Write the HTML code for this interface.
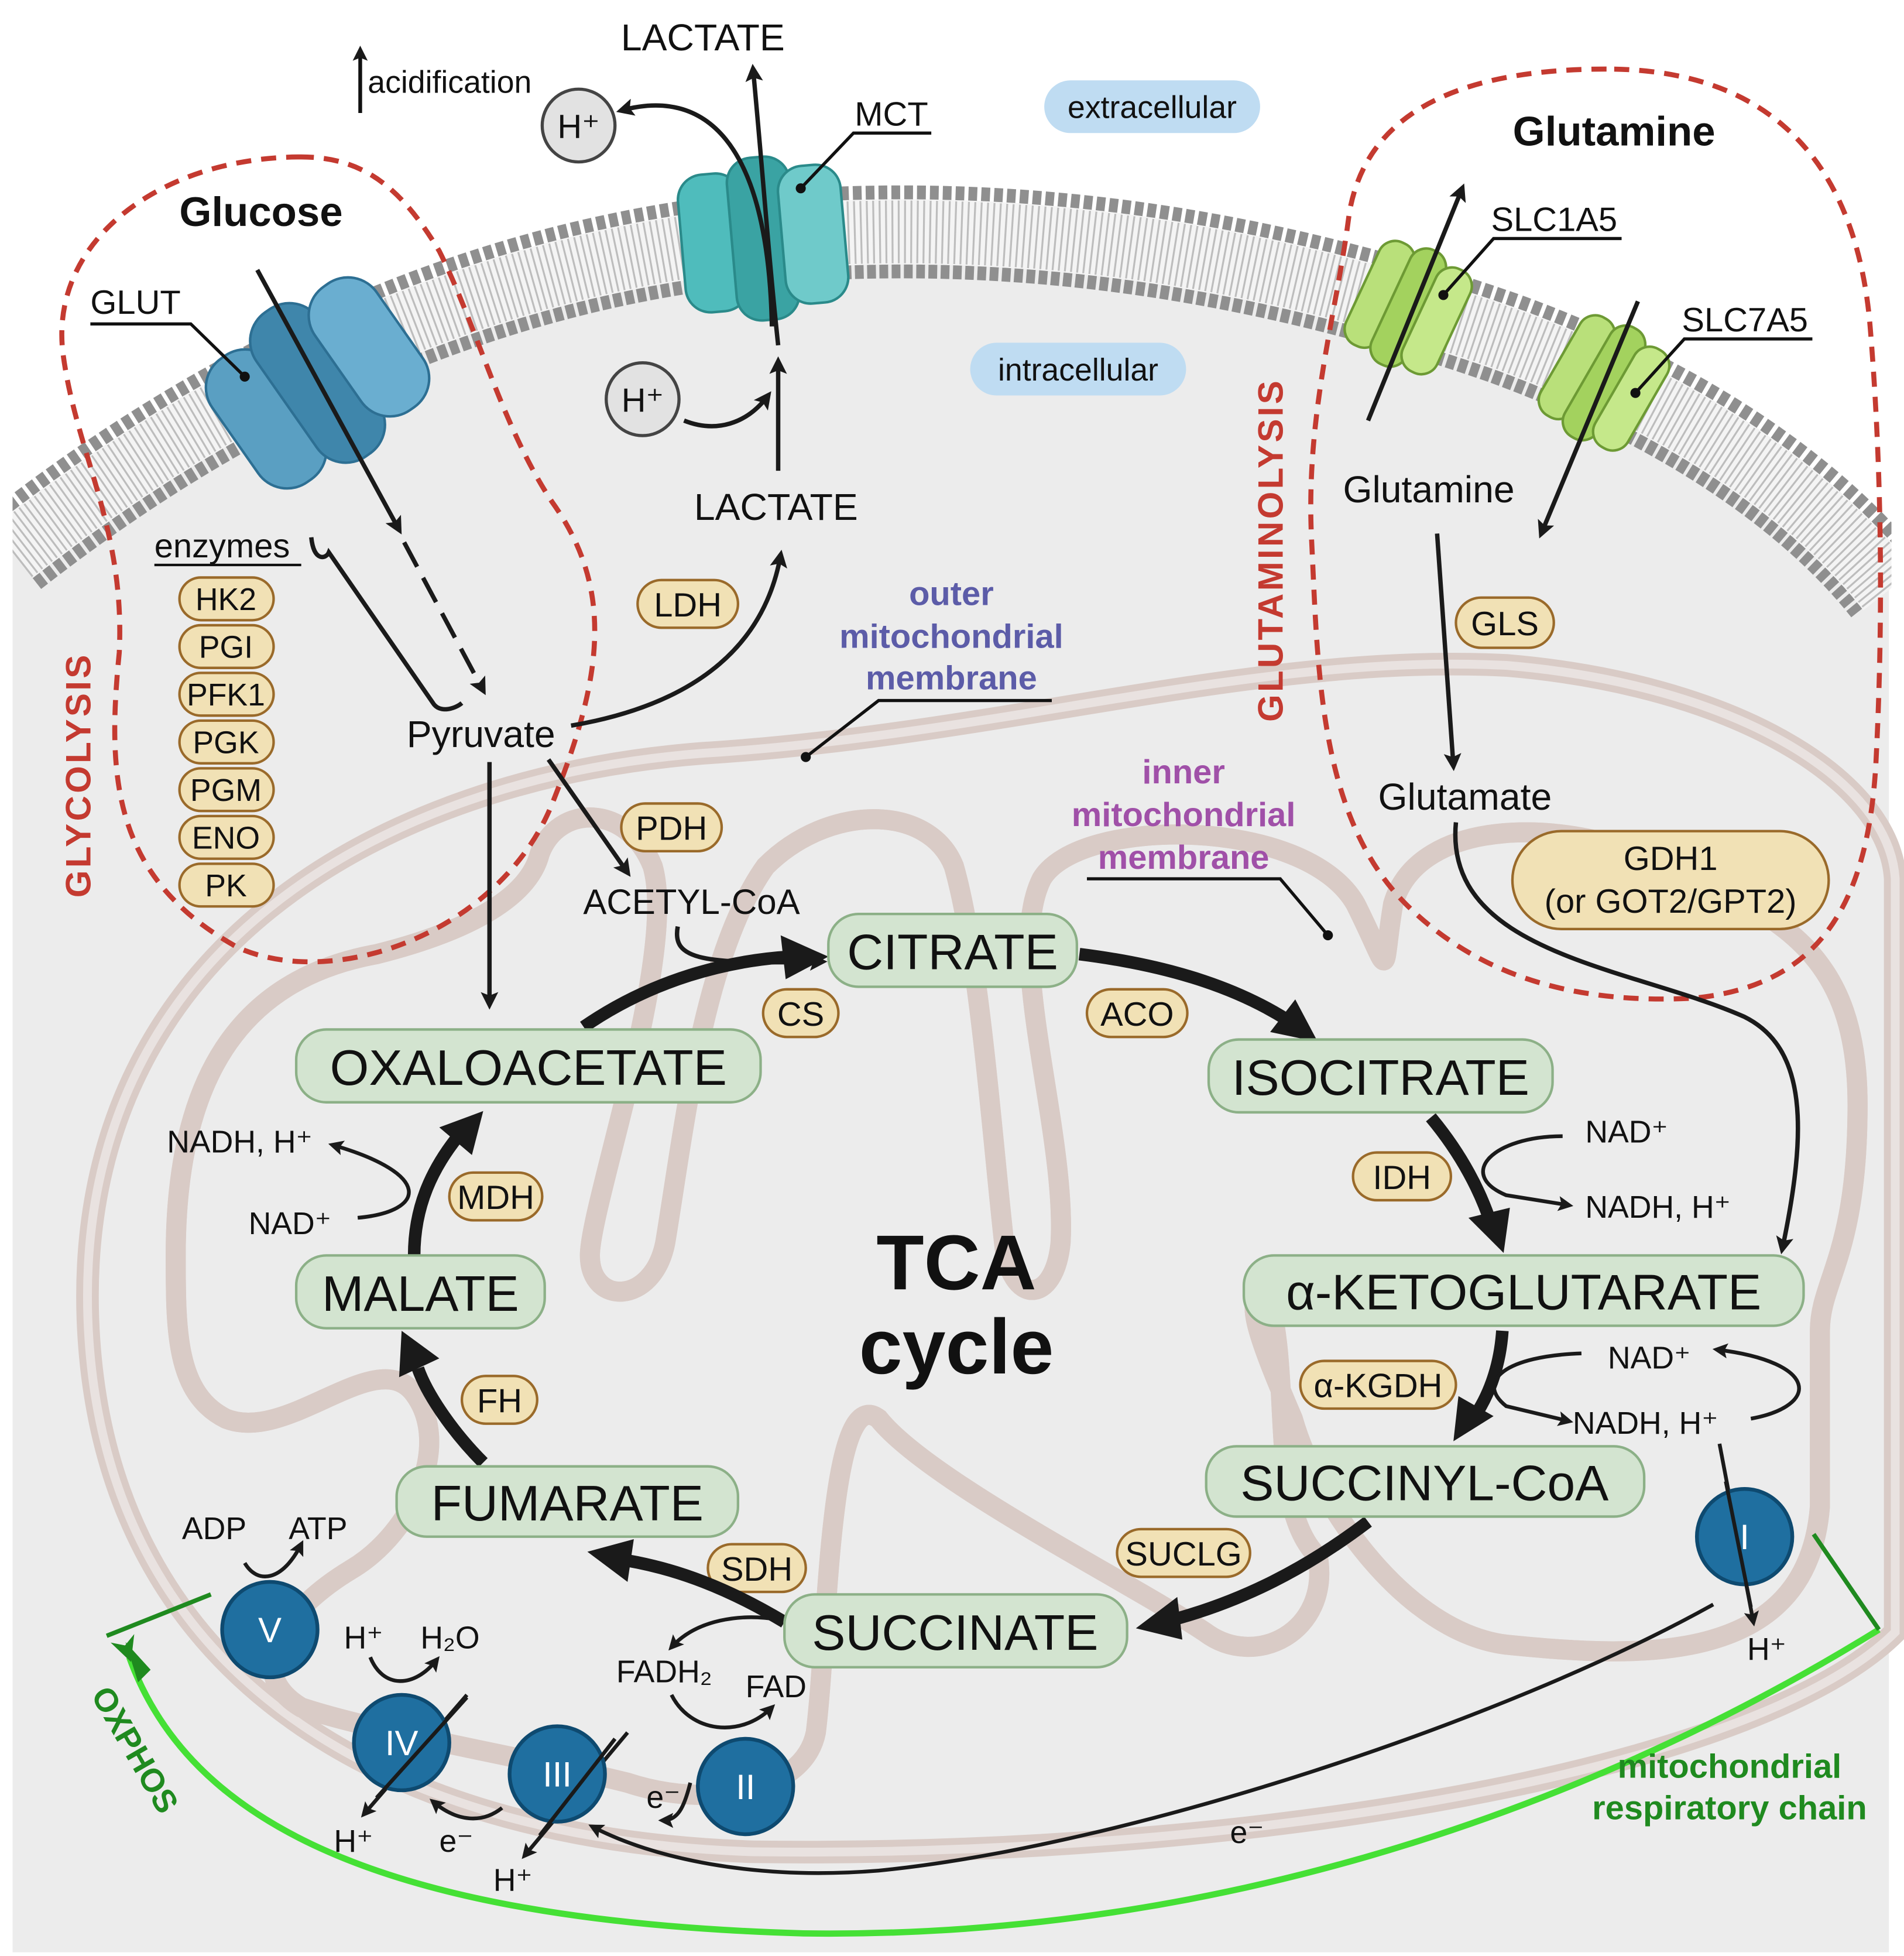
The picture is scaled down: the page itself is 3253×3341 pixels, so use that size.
<!DOCTYPE html>
<html><head><meta charset="utf-8">
<style>
html,body{margin:0;padding:0;background:#fff;}
svg{display:block;}
text{font-family:"Liberation Sans",Arial,sans-serif;fill:#111;}
.m{font-size:40px;text-anchor:middle;}
.e{font-size:25px;text-anchor:middle;}
.t{font-size:27px;}
.s{font-size:25px;}
</style></head><body>
<svg width="3253" height="3341" viewBox="0 0 1517 1558" preserveAspectRatio="none" xmlns="http://www.w3.org/2000/svg">
<defs>
<marker id="a" viewBox="0 0 10 10" refX="8" refY="5" markerWidth="6" markerHeight="6" orient="auto-start-reverse"><path d="M0,0 L10,5 L0,10 L3,5 Z" fill="#1a1a1a"/></marker>
<marker id="b" viewBox="0 0 10 10" refX="7" refY="5" markerWidth="4" markerHeight="4" orient="auto"><path d="M0,0 L10,5 L0,10 L2,5 Z" fill="#1a1a1a"/></marker>
<marker id="g" viewBox="0 0 10 10" refX="8" refY="5" markerWidth="4" markerHeight="4" orient="auto"><path d="M0,0 L10,5 L0,10 L3,5 Z" fill="#1f8a1f"/></marker>
</defs>
<rect width="1517" height="1558" fill="#fff"/>
<!-- cell interior -->
<path d="M10,440 C150,330 350,215 600,190 C800,172 1000,200 1200,270 C1350,325 1450,400 1505,470 L1505,1555 L10,1555 Z" fill="#ececec"/>
<!-- membrane -->
<path d="M10,440 C150,330 350,215 600,190 C800,172 1000,200 1200,270 C1350,325 1450,400 1505,470" fill="none" stroke="#8f8f8f" stroke-width="74" stroke-dasharray="7 3"/>
<path d="M10,440 C150,330 350,215 600,190 C800,172 1000,200 1200,270 C1350,325 1450,400 1505,470" fill="none" stroke="#f4f4f4" stroke-width="52"/>
<path d="M10,440 C150,330 350,215 600,190 C800,172 1000,200 1200,270 C1350,325 1450,400 1505,470" fill="none" stroke="#bdbdbd" stroke-width="50" stroke-dasharray="1.5 3.5"/>
<rect x="0" y="0" width="10" height="1558" fill="#fff"/>
<rect x="1507" y="0" width="10" height="1558" fill="#fff"/>

<!-- mitochondrion outer -->
<g fill="none">
<path d="M70,1050 C60,760 300,620 560,600 C800,585 1000,520 1200,530 C1380,545 1505,620 1510,700 L1510,1300 C1400,1410 1000,1480 600,1475 C300,1465 80,1330 70,1050 Z" stroke="#d9cbc6" stroke-width="18"/>
<path d="M70,1050 C60,760 300,620 560,600 C800,585 1000,520 1200,530 C1380,545 1505,620 1510,700 L1510,1300 C1400,1410 1000,1480 600,1475 C300,1465 80,1330 70,1050 Z" stroke="#e9e2e0" stroke-width="7"/>
<!-- inner membrane with cristae -->
<path id="im" d="M140,1000 C140,860 190,780 300,760 C360,745 420,720 430,680 C445,640 500,640 520,690 C540,760 470,960 470,1000 C470,1040 520,1040 530,990 C545,900 560,760 610,690 C660,640 740,640 760,690 C780,760 790,900 800,990 C805,1040 840,1040 845,990 C850,900 800,760 830,700 C860,650 1040,650 1080,720 C1110,780 1100,780 1110,720 C1130,650 1250,650 1330,690 C1420,730 1480,760 1480,880 C1480,1000 1450,1020 1450,1060 L1450,1200 C1440,1330 1300,1320 1200,1310 C1120,1300 1050,1200 1030,1130 C1000,1060 990,1030 1010,1030 C1030,1100 1010,1200 1050,1240 C1060,1300 1000,1330 960,1300 C900,1260 740,1180 700,1130 C660,1100 660,1300 650,1380 C640,1430 560,1440 500,1420 C420,1400 300,1380 240,1360 C190,1330 230,1280 280,1250 C330,1220 360,1150 330,1110 C300,1070 230,1150 180,1130 C140,1110 140,1060 140,1000 Z" stroke="#d9cbc6" stroke-width="16"/>
<use href="#im" stroke="#e9e2e0" stroke-width="5"/>
</g>

<!-- red dashed regions -->
<path d="M240,125 C130,125 40,190 50,280 C60,360 100,420 95,520 C85,620 90,700 190,755 C270,790 400,740 440,640 C480,540 490,470 440,400 C400,340 380,260 350,200 C320,150 290,125 240,125 Z" fill="none" stroke="#c43a30" stroke-width="4" stroke-dasharray="12 8"/>
<path d="M1280,55 C1180,55 1090,80 1075,170 C1065,250 1040,330 1045,430 C1050,530 1050,650 1120,720 C1180,780 1260,800 1350,795 C1450,785 1490,720 1495,600 C1500,500 1500,380 1490,260 C1480,140 1420,55 1280,55 Z" fill="none" stroke="#c43a30" stroke-width="4" stroke-dasharray="12 8"/>
<text transform="translate(72,715) rotate(-90)" font-size="28" font-weight="bold" style="fill:#c43a30" letter-spacing="2">GLYCOLYSIS</text>
<text transform="translate(1022,575) rotate(-90)" font-size="28" font-weight="bold" style="fill:#c43a30" letter-spacing="2">GLUTAMINOLYSIS</text>

<!-- pills extracellular/intracellular -->
<rect x="832" y="64" width="172" height="42" rx="21" fill="#bfdcf2"/>
<text x="918" y="94" class="e" style="font-size:25px">extracellular</text>
<rect x="773" y="273" width="172" height="42" rx="21" fill="#bfdcf2"/>
<text x="859" y="303" class="e">intracellular</text>

<!-- transporters -->
<g transform="translate(253,305) rotate(-35)">
<rect x="-80" y="-60" width="60" height="120" rx="28" fill="#5a9fc2" stroke="#2d6f93" stroke-width="2"/>
<rect x="-30" y="-70" width="60" height="140" rx="28" fill="#3f86ab" stroke="#2d6f93" stroke-width="2"/>
<rect x="20" y="-60" width="60" height="120" rx="28" fill="#6aaed0" stroke="#2d6f93" stroke-width="2"/>
</g>
<g transform="translate(608,190) rotate(-5)">
<rect x="-65" y="-55" width="50" height="110" rx="20" fill="#4fbcbc" stroke="#2a8a8a" stroke-width="2"/>
<rect x="-25" y="-65" width="50" height="130" rx="20" fill="#3aa3a3" stroke="#2a8a8a" stroke-width="2"/>
<rect x="15" y="-55" width="50" height="110" rx="20" fill="#6fcaca" stroke="#2a8a8a" stroke-width="2"/>
</g>
<g transform="translate(1122,245) rotate(25)">
<rect x="-40" y="-45" width="30" height="90" rx="14" fill="#b9e07a" stroke="#6d9a34" stroke-width="2"/>
<rect x="-15" y="-50" width="30" height="100" rx="14" fill="#a3d25e" stroke="#6d9a34" stroke-width="2"/>
<rect x="10" y="-45" width="30" height="90" rx="14" fill="#c5e88a" stroke="#6d9a34" stroke-width="2"/>
</g>
<g transform="translate(1278,305) rotate(30)">
<rect x="-40" y="-45" width="30" height="90" rx="14" fill="#b9e07a" stroke="#6d9a34" stroke-width="2"/>
<rect x="-15" y="-50" width="30" height="100" rx="14" fill="#a3d25e" stroke="#6d9a34" stroke-width="2"/>
<rect x="10" y="-45" width="30" height="90" rx="14" fill="#c5e88a" stroke="#6d9a34" stroke-width="2"/>
</g>

<!-- top labels -->
<text x="208" y="180" font-size="33" font-weight="bold" text-anchor="middle">Glucose</text>
<text x="1286" y="116" font-size="33" font-weight="bold" text-anchor="middle">Glutamine</text>
<text x="72" y="250" class="t">GLUT</text>
<path d="M72,258 H152 L195,300" fill="none" stroke="#111" stroke-width="2.5"/>
<circle cx="195" cy="300" r="4" fill="#111"/>
<text x="681" y="100" class="t">MCT</text>
<path d="M742,106 H680 L638,150" fill="none" stroke="#111" stroke-width="2.5"/>
<circle cx="638" cy="150" r="4" fill="#111"/>
<text x="1188" y="184" class="t">SLC1A5</text>
<path d="M1292,190 H1190 L1150,235" fill="none" stroke="#111" stroke-width="2.5"/>
<circle cx="1150" cy="235" r="4" fill="#111"/>
<text x="1340" y="264" class="t">SLC7A5</text>
<path d="M1444,270 H1342 L1303,313" fill="none" stroke="#111" stroke-width="2.5"/>
<circle cx="1303" cy="313" r="4" fill="#111"/>
<text x="560" y="40" class="t" text-anchor="middle" style="font-size:30px">LACTATE</text>
<text x="293" y="74" class="s">acidification</text>
<line x1="287" y1="90" x2="287" y2="40" stroke="#111" stroke-width="3" marker-end="url(#b)"/>

<!-- H+ circles -->
<circle cx="461" cy="100" r="29" fill="#e2e2e2" stroke="#444" stroke-width="2.5"/>
<text x="461" y="110" class="e" style="font-size:27px">H⁺</text>
<circle cx="512" cy="318" r="29" fill="#e2e2e2" stroke="#444" stroke-width="2.5"/>
<text x="512" y="328" class="e" style="font-size:27px">H⁺</text>

<!-- arrows upper -->
<g fill="none" stroke="#1a1a1a" stroke-width="3.5">
<line x1="205" y1="215" x2="318" y2="422" marker-end="url(#b)"/>
<line x1="322" y1="432" x2="385" y2="550" stroke-dasharray="22 10" marker-end="url(#b)"/>
<path d="M248,428 C250,448 260,445 262,440 L345,560 C350,568 362,565 368,560" />
<line x1="620" y1="375" x2="620" y2="288" marker-end="url(#b)"/>
<path d="M620,275 C612,200 608,140 600,55" marker-end="url(#b)"/>
<path d="M615,260 C612,110 560,70 495,88" marker-end="url(#b)"/>
<path d="M545,335 C570,345 595,338 612,315" marker-end="url(#b)"/>
<path d="M455,578 C560,560 610,510 622,442" marker-end="url(#b)"/>
<line x1="390" y1="607" x2="390" y2="800" marker-end="url(#b)"/>
<line x1="437" y1="605" x2="500" y2="695" marker-end="url(#b)"/>
<path d="M540,738 C535,765 560,768 655,766" marker-end="url(#b)"/>
<line x1="1090" y1="335" x2="1165" y2="150" marker-end="url(#b)"/>
<line x1="1305" y1="240" x2="1228" y2="425" marker-end="url(#b)"/>
<line x1="1145" y1="425" x2="1158" y2="610" marker-end="url(#b)"/>
<path d="M1160,655 C1150,760 1300,770 1390,810 C1440,835 1440,900 1420,995" marker-end="url(#b)"/>
</g>
<text x="123" y="444" class="t">enzymes</text>
<line x1="123" y1="450" x2="240" y2="450" stroke="#111" stroke-width="2"/>
<text x="324" y="595" class="t" style="font-size:30px">Pyruvate</text>
<text x="553" y="414" class="t" style="font-size:30px">LACTATE</text>
<text x="1070" y="400" class="t" style="font-size:30px">Glutamine</text>
<text x="1098" y="645" class="t" style="font-size:30px">Glutamate</text>
<text x="551" y="728" class="t" text-anchor="middle" style="font-size:28px">ACETYL-CoA</text>

<!-- mito labels -->
<text x="758" y="482" font-size="27" font-weight="bold" text-anchor="middle" style="fill:#5c5ca8">outer</text>
<text x="758" y="516" font-size="27" font-weight="bold" text-anchor="middle" style="fill:#5c5ca8">mitochondrial</text>
<text x="758" y="549" font-size="27" font-weight="bold" text-anchor="middle" style="fill:#5c5ca8">membrane</text>
<path d="M838,558 H700 L642,603" fill="none" stroke="#111" stroke-width="2.5"/>
<circle cx="642" cy="603" r="4" fill="#111"/>
<text x="943" y="624" font-size="27" font-weight="bold" text-anchor="middle" style="fill:#a050a8">inner</text>
<text x="943" y="658" font-size="27" font-weight="bold" text-anchor="middle" style="fill:#a050a8">mitochondrial</text>
<text x="943" y="692" font-size="27" font-weight="bold" text-anchor="middle" style="fill:#a050a8">membrane</text>
<path d="M866,700 H1020 L1058,745" fill="none" stroke="#111" stroke-width="2.5"/>
<circle cx="1058" cy="745" r="4" fill="#111"/>

<!-- enzyme pills -->
<g fill="#f1e1b5" stroke="#9a6a2a" stroke-width="2">
<rect x="143" y="460" width="75" height="34" rx="17"/>
<rect x="143" y="498" width="75" height="34" rx="17"/>
<rect x="143" y="536" width="75" height="34" rx="17"/>
<rect x="143" y="574" width="75" height="34" rx="17"/>
<rect x="143" y="612" width="75" height="34" rx="17"/>
<rect x="143" y="650" width="75" height="34" rx="17"/>
<rect x="143" y="688" width="75" height="34" rx="17"/>
<rect x="508" y="462" width="80" height="38" rx="19"/>
<rect x="495" y="640" width="80" height="38" rx="19"/>
<rect x="608" y="788" width="60" height="38" rx="19"/>
<rect x="866" y="788" width="80" height="38" rx="19"/>
<rect x="1078" y="918" width="78" height="38" rx="19"/>
<rect x="358" y="934" width="74" height="38" rx="19"/>
<rect x="368" y="1096" width="60" height="38" rx="19"/>
<rect x="1036" y="1084" width="124" height="38" rx="19"/>
<rect x="890" y="1218" width="106" height="38" rx="19"/>
<rect x="564" y="1230" width="78" height="38" rx="19"/>
<rect x="1160" y="476" width="78" height="40" rx="20"/>
<rect x="1205" y="662" width="252" height="78" rx="39"/>
</g>
<g class="e">
<text x="180" y="486" class="e">HK2</text>
<text x="180" y="524" class="e">PGI</text>
<text x="180" y="562" class="e">PFK1</text>
<text x="180" y="600" class="e">PGK</text>
<text x="180" y="638" class="e">PGM</text>
<text x="180" y="676" class="e">ENO</text>
<text x="180" y="714" class="e">PK</text>
<text x="548" y="491" class="e" style="font-size:27px">LDH</text>
<text x="535" y="669" class="e" style="font-size:27px">PDH</text>
<text x="638" y="817" class="e" style="font-size:27px">CS</text>
<text x="906" y="817" class="e" style="font-size:27px">ACO</text>
<text x="1117" y="947" class="e" style="font-size:27px">IDH</text>
<text x="395" y="963" class="e" style="font-size:27px">MDH</text>
<text x="398" y="1125" class="e" style="font-size:27px">FH</text>
<text x="1098" y="1113" class="e" style="font-size:27px">α-KGDH</text>
<text x="943" y="1247" class="e" style="font-size:27px">SUCLG</text>
<text x="603" y="1259" class="e" style="font-size:27px">SDH</text>
<text x="1199" y="506" class="e" style="font-size:27px">GLS</text>
<text x="1331" y="693" class="e" style="font-size:27px">GDH1</text>
<text x="1331" y="727" class="e" style="font-size:27px">(or GOT2/GPT2)</text>
</g>

<!-- TCA cycle arrows -->
<g fill="none" stroke="#1a1a1a" stroke-width="10">
<path d="M465,818 C520,780 580,765 630,762"/>
<path d="M860,760 C940,770 990,790 1025,812"/>
<path d="M1140,890 C1165,920 1180,950 1188,975"/>
<path d="M1197,1060 C1195,1090 1185,1115 1172,1132"/>
<path d="M1090,1212 C1040,1250 990,1275 935,1290"/>
<path d="M625,1292 C580,1265 540,1250 500,1243"/>
<path d="M385,1165 C360,1140 340,1110 333,1090"/>
<path d="M330,1000 C330,960 345,930 365,905"/>
</g>
<g fill="#1a1a1a">
<path d="M660,762 L622,745 L626,780 Z"/>
<path d="M1050,830 L1012,822 L1032,796 Z"/>
<path d="M1198,998 L1170,970 L1203,962 Z"/>
<path d="M1158,1148 L1162,1112 L1190,1128 Z"/>
<path d="M905,1297 L938,1272 L942,1306 Z"/>
<path d="M468,1236 L505,1226 L500,1260 Z"/>
<path d="M320,1060 L350,1082 L318,1097 Z"/>
<path d="M385,885 L376,920 L350,898 Z"/>
</g>

<!-- cycle nodes -->
<g fill="#d3e4d0" stroke="#8cb087" stroke-width="2">
<rect x="660" y="728" width="198" height="58" rx="24"/>
<rect x="236" y="820" width="370" height="58" rx="24"/>
<rect x="963" y="828" width="274" height="58" rx="24"/>
<rect x="991" y="1000" width="446" height="56" rx="24"/>
<rect x="961" y="1152" width="349" height="56" rx="24"/>
<rect x="625" y="1270" width="273" height="58" rx="24"/>
<rect x="316" y="1168" width="272" height="56" rx="24"/>
<rect x="236" y="1000" width="198" height="58" rx="24"/>
</g>
<text x="759" y="772" class="m">CITRATE</text>
<text x="421" y="864" class="m">OXALOACETATE</text>
<text x="1100" y="872" class="m">ISOCITRATE</text>
<text x="1214" y="1043" class="m">α-KETOGLUTARATE</text>
<text x="1135" y="1195" class="m">SUCCINYL-CoA</text>
<text x="761" y="1314" class="m">SUCCINATE</text>
<text x="452" y="1211" class="m">FUMARATE</text>
<text x="335" y="1044" class="m">MALATE</text>
<text x="762" y="1027" font-size="62" font-weight="bold" text-anchor="middle">TCA</text>
<text x="762" y="1094" font-size="62" font-weight="bold" text-anchor="middle">cycle</text>

<!-- cofactors -->
<g fill="none" stroke="#1a1a1a" stroke-width="3">
<path d="M285,970 C340,965 345,935 265,912" marker-end="url(#b)"/>
<path d="M1245,905 C1190,905 1160,935 1200,952 L1250,960" marker-end="url(#b)"/>
<path d="M1260,1078 C1200,1080 1175,1100 1200,1120 L1250,1132" marker-end="url(#b)"/>
<path d="M1395,1130 C1450,1120 1450,1085 1368,1075" marker-end="url(#b)"/>
<path d="M620,1290 C590,1285 555,1290 535,1312" marker-end="url(#b)"/>
<path d="M535,1350 C550,1380 590,1385 615,1360" marker-end="url(#b)"/>
<path d="M195,1245 C205,1262 225,1260 240,1230" marker-end="url(#b)"/>
<path d="M295,1320 C305,1345 330,1345 348,1322" marker-end="url(#b)"/>
<line x1="372" y1="1350" x2="290" y2="1445" marker-end="url(#b)"/>
<line x1="500" y1="1380" x2="418" y2="1478" marker-end="url(#b)"/>
<path d="M400,1440 C385,1452 365,1452 345,1435" marker-end="url(#b)"/>
<path d="M550,1420 C545,1440 540,1450 528,1450" marker-end="url(#b)"/>
<line x1="1370" y1="1150" x2="1397" y2="1292" marker-end="url(#b)"/>
<path d="M1365,1278 C1200,1370 900,1470 700,1490 C600,1498 520,1480 472,1455" marker-end="url(#b)"/>
</g>
<text x="133" y="918" class="s">NADH, H⁺</text>
<text x="198" y="983" class="s">NAD⁺</text>
<text x="1263" y="910" class="s">NAD⁺</text>
<text x="1263" y="970" class="s">NADH, H⁺</text>
<text x="1281" y="1090" class="s">NAD⁺</text>
<text x="1253" y="1142" class="s">NADH, H⁺</text>
<text x="491" y="1340" class="s">FADH₂</text>
<text x="594" y="1352" class="s">FAD</text>
<text x="145" y="1226" class="s">ADP</text>
<text x="230" y="1226" class="s">ATP</text>
<text x="274" y="1313" class="s">H⁺</text>
<text x="335" y="1313" class="s">H₂O</text>
<text x="266" y="1475" class="s">H⁺</text>
<text x="350" y="1475" class="s">e⁻</text>
<text x="393" y="1506" class="s">H⁺</text>
<text x="515" y="1440" class="s">e⁻</text>
<text x="980" y="1468" class="s">e⁻</text>
<text x="1392" y="1322" class="s">H⁺</text>

<!-- OXPHOS green -->
<path d="M103,1320 C150,1450 300,1530 640,1540 C1000,1545 1300,1420 1497,1298" fill="none" stroke="#45e035" stroke-width="5" marker-start="url(#g)"/>
<line x1="85" y1="1303" x2="168" y2="1270" stroke="#1f8a1f" stroke-width="3.5"/>
<line x1="1497" y1="1298" x2="1445" y2="1222" stroke="#1f8a1f" stroke-width="3.5"/>
<path d="M100,1308 L110,1340 L120,1330 Z" fill="#1f8a1f"/>
<text transform="translate(72,1350) rotate(60)" font-size="26" font-weight="bold" style="fill:#1f8a1f">OXPHOS</text>
<text x="1378" y="1416" font-size="27" font-weight="bold" text-anchor="middle" style="fill:#1f8a1f">mitochondrial</text>
<text x="1378" y="1449" font-size="27" font-weight="bold" text-anchor="middle" style="fill:#1f8a1f">respiratory chain</text>

<!-- complexes -->
<g fill="#1f6fa0" stroke="#0e4a70" stroke-width="3">
<circle cx="215" cy="1298" r="38"/>
<circle cx="320" cy="1388" r="38"/>
<circle cx="444" cy="1413" r="38"/>
<circle cx="594" cy="1423" r="38"/>
<circle cx="1390" cy="1224" r="38"/>
</g>
<g font-size="28" text-anchor="middle">
<text x="215" y="1308" style="fill:#fff">V</text>
<text x="320" y="1398" style="fill:#fff">IV</text>
<text x="444" y="1423" style="fill:#fff">III</text>
<text x="594" y="1433" style="fill:#fff">II</text>
<text x="1390" y="1234" style="fill:#fff">I</text>
</g>
<line x1="372" y1="1352" x2="300" y2="1432" stroke="#1a1a1a" stroke-width="3"/>
<line x1="490" y1="1385" x2="430" y2="1462" stroke="#1a1a1a" stroke-width="3"/>
<line x1="1375" y1="1180" x2="1395" y2="1280" stroke="#1a1a1a" stroke-width="3"/>
</svg>
</body></html>
